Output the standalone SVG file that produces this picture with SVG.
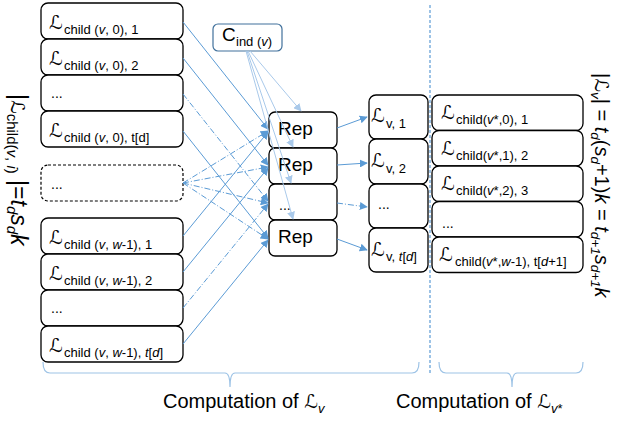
<svg xmlns="http://www.w3.org/2000/svg" width="622" height="421" viewBox="0 0 622 421">
<style>
text{font-family:"Liberation Sans","DejaVu Sans",sans-serif;fill:#000}
.box{fill:#fff;stroke:#000;stroke-width:1.3}
.dbox{fill:#fff;stroke:#000;stroke-width:1.2;stroke-dasharray:3,2}
.L{font-family:"DejaVu Serif","DejaVu Sans",serif;font-size:19px}
.s{font-size:13px}
.dots{font-size:14px}
.rep{font-size:19px}
.c{stroke:#5b9bd5;stroke-width:1;fill:none;marker-end:url(#ah)}
.dd{stroke-dasharray:6,2,1,2}
.ci{stroke:#a9c9ea;stroke-width:1;fill:none;marker-end:url(#ah2)}
.br{stroke:#9dc3e6;stroke-width:1.2;fill:none}
.big{font-size:20px}
</style>
<defs>
<marker id="ah" viewBox="0 0 10 10" refX="9" refY="5" markerWidth="8" markerHeight="8" markerUnits="userSpaceOnUse" orient="auto"><path d="M0,0 L10,5 L0,10 z" fill="#5b9bd5"/></marker>
<marker id="ah2" viewBox="0 0 10 10" refX="9" refY="5" markerWidth="8" markerHeight="8" markerUnits="userSpaceOnUse" orient="auto"><path d="M0,0 L10,5 L0,10 z" fill="#a9c9ea"/></marker>
</defs>

<!-- left column -->
<g id="lc1"><rect class="box" x="41" y="3" width="142" height="36" rx="7"/><text class="L" x="49" y="29">ℒ</text><text class="s" x="64" y="34">child (<tspan font-style="italic">v</tspan>, 0), 1</text></g>
<g id="lc2"><rect class="box" x="41" y="39" width="142" height="36" rx="7"/><text class="L" x="49" y="65">ℒ</text><text class="s" x="64" y="70">child (<tspan font-style="italic">v</tspan>, 0), 2</text></g>
<g id="lc3"><rect class="box" x="41" y="75" width="142" height="36" rx="7"/><text class="dots" x="51" y="98">...</text></g>
<g id="lc4"><rect class="box" x="41" y="111" width="142" height="36" rx="7"/><text class="L" x="49" y="137">ℒ</text><text class="s" x="64" y="142">child (<tspan font-style="italic">v</tspan>, 0), t[d]</text></g>
<g id="lcd"><rect class="dbox" x="41" y="165" width="142" height="36" rx="7"/><text class="dots" x="51" y="189">...</text></g>
<g id="lc5"><rect class="box" x="41" y="218" width="142" height="36" rx="7"/><text class="L" x="49" y="244">ℒ</text><text class="s" x="64" y="249">child (<tspan font-style="italic">v</tspan>, <tspan font-style="italic">w</tspan>-1), 1</text></g>
<g id="lc6"><rect class="box" x="41" y="254" width="142" height="36" rx="7"/><text class="L" x="49" y="280">ℒ</text><text class="s" x="64" y="285">child (<tspan font-style="italic">v</tspan>, <tspan font-style="italic">w</tspan>-1), 2</text></g>
<g id="lc7"><rect class="box" x="41" y="290" width="142" height="36" rx="7"/><text class="dots" x="51" y="313">...</text></g>
<g id="lc8"><rect class="box" x="41" y="326" width="142" height="36" rx="7"/><text class="L" x="49" y="352">ℒ</text><text class="s" x="64" y="357">child (<tspan font-style="italic">v</tspan>, <tspan font-style="italic">w</tspan>-1), <tspan font-style="italic">t</tspan>[<tspan font-style="italic">d</tspan>]</text></g>

<!-- C_ind -->
<g id="cind"><rect x="213" y="24" width="69" height="27" rx="5" fill="#fff" stroke="#41719c" stroke-width="1.2"/><text x="222" y="41" font-size="19">C</text><text class="s" x="236" y="46">ind (<tspan font-style="italic">v</tspan>)</text></g>

<!-- Rep column -->
<g id="rep1"><rect class="box" x="269" y="112" width="68" height="36" rx="6"/><text class="rep" x="278" y="135">Rep</text></g>
<g id="rep2"><rect class="box" x="269" y="148" width="68" height="36" rx="6"/><text class="rep" x="278" y="171">Rep</text></g>
<g id="rep3"><rect class="box" x="269" y="184" width="68" height="36" rx="6"/><text class="dots" x="279" y="210">...</text></g>
<g id="rep4"><rect class="box" x="269" y="220" width="68" height="36" rx="6"/><text class="rep" x="278" y="243">Rep</text></g>

<!-- L_v column -->
<g id="lv1"><rect class="box" x="369" y="95" width="59" height="44" rx="7"/><text class="L" x="371" y="122">ℒ</text><text class="s" x="386" y="128">v, 1</text></g>
<g id="lv2"><rect class="box" x="369" y="139" width="59" height="45" rx="7"/><text class="L" x="371" y="167">ℒ</text><text class="s" x="386" y="173">v, 2</text></g>
<g id="lv3"><rect class="box" x="369" y="184" width="59" height="44" rx="7"/><text class="dots" x="378" y="209">...</text></g>
<g id="lv4"><rect class="box" x="369" y="228" width="59" height="44" rx="7"/><text class="L" x="371" y="256">ℒ</text><text class="s" x="386" y="261">v, <tspan font-style="italic">t</tspan>[<tspan font-style="italic">d</tspan>]</text></g>

<!-- right column -->
<g id="rc1"><rect class="box" x="432" y="95" width="151" height="35.5" rx="7"/><text class="L" x="441" y="119">ℒ</text><text class="s" x="456" y="124">child(<tspan font-style="italic">v</tspan>*,0), 1</text></g>
<g id="rc2"><rect class="box" x="432" y="130.5" width="151" height="35.5" rx="7"/><text class="L" x="441" y="154.5">ℒ</text><text class="s" x="456" y="159.5">child(<tspan font-style="italic">v</tspan>*,1), 2</text></g>
<g id="rc3"><rect class="box" x="432" y="166" width="151" height="35.5" rx="7"/><text class="L" x="441" y="190">ℒ</text><text class="s" x="456" y="195">child(<tspan font-style="italic">v</tspan>*,2), 3</text></g>
<g id="rc4"><rect class="box" x="432" y="201.5" width="151" height="35.5" rx="7"/><text class="dots" x="442" y="228">...</text></g>
<g id="rc5"><rect class="box" x="432" y="237" width="151" height="35.5" rx="7"/><text class="L" x="439" y="261">ℒ</text><text class="s" x="455" y="266">child(<tspan font-style="italic">v</tspan>*,<tspan font-style="italic">w</tspan>-1), t[<tspan font-style="italic">d</tspan>+1]</text></g>

<!-- connectors -->
<g id="connectors">
<line class="c" x1="183" y1="22" x2="268" y2="129"/>
<line class="c" x1="183" y1="58" x2="268" y2="165"/>
<line class="c dd" x1="183" y1="94" x2="268" y2="201"/>
<line class="c" x1="183" y1="131" x2="268" y2="238"/>
<line class="c dd" x1="183" y1="183" x2="268" y2="131"/>
<line class="c dd" x1="183" y1="183" x2="268" y2="167"/>
<line class="c dd" x1="183" y1="183" x2="268" y2="203"/>
<line class="c dd" x1="183" y1="183" x2="268" y2="239"/>
<line class="c" x1="183" y1="236" x2="268" y2="132"/>
<line class="c" x1="183" y1="272" x2="268" y2="168"/>
<line class="c dd" x1="183" y1="308" x2="268" y2="204"/>
<line class="c" x1="183" y1="344" x2="268" y2="240"/>
<line class="c" x1="337" y1="128" x2="367" y2="117"/>
<line class="c" x1="337" y1="165" x2="367" y2="163"/>
<line class="c dd" x1="337" y1="203" x2="367" y2="207"/>
<line class="c" x1="337" y1="239" x2="367" y2="250"/>
<line class="ci" x1="250" y1="51" x2="301" y2="111"/>
<line class="ci" x1="248" y1="51" x2="293" y2="147"/>
<line class="ci" x1="247" y1="51" x2="291" y2="183"/>
<line class="ci" x1="246" y1="51" x2="293" y2="219"/>
</g>

<!-- divider -->
<line x1="430" y1="5" x2="430" y2="373" stroke="#5b9bd5" stroke-width="1.2" stroke-dasharray="3,2"/>

<!-- braces -->
<path class="br" d="M43,362 Q43,373 50,373 H225 Q230,373 230,387 Q230,373 235,373 H412 Q419,373 419,362"/>
<path class="br" d="M439,362 Q439,373 446,373 H507 Q512,373 512,387 Q512,373 517,373 H576 Q583,373 583,362"/>

<!-- labels -->
<text class="big" x="163" y="408">Computation of <tspan class="L" font-size="20">ℒ</tspan><tspan font-size="13" font-style="italic" dy="5">v</tspan></text>
<text class="big" x="396" y="408">Computation of <tspan class="L" font-size="20">ℒ</tspan><tspan font-size="13" dy="5"><tspan font-style="italic">v</tspan>*</tspan></text>

<!-- rotated formulas -->
<text transform="translate(11,94) rotate(90)" font-size="23">|<tspan class="L" font-size="23">ℒ</tspan><tspan font-size="15" dy="4">child(<tspan font-style="italic">v</tspan>, <tspan font-style="italic">i</tspan>)</tspan><tspan dy="-4"> |=</tspan><tspan font-style="italic">t</tspan><tspan font-size="15" font-style="italic" dy="4">d</tspan><tspan font-style="italic" dy="-4">s</tspan><tspan font-size="15" font-style="italic" dy="4">d</tspan><tspan font-style="italic" dy="-4">k</tspan></text>
<text transform="translate(595,73) rotate(90)" font-size="20">|<tspan class="L" font-size="20">ℒ</tspan><tspan font-size="13.5" font-style="italic" dy="4">v</tspan><tspan dy="-4">| = </tspan><tspan font-style="italic">t</tspan><tspan font-size="13.5" font-style="italic" dy="4">d</tspan><tspan dy="-4">(</tspan><tspan font-style="italic">s</tspan><tspan font-size="13.5" font-style="italic" dy="4">d</tspan><tspan dy="-4">+1)</tspan><tspan font-style="italic">k</tspan><tspan> = </tspan><tspan font-style="italic">t</tspan><tspan font-size="13.5" font-style="italic" dy="4">d+1</tspan><tspan font-style="italic" dy="-4">s</tspan><tspan font-size="13.5" font-style="italic" dy="4">d+1</tspan><tspan font-style="italic" dy="-4">k</tspan></text>
</svg>
